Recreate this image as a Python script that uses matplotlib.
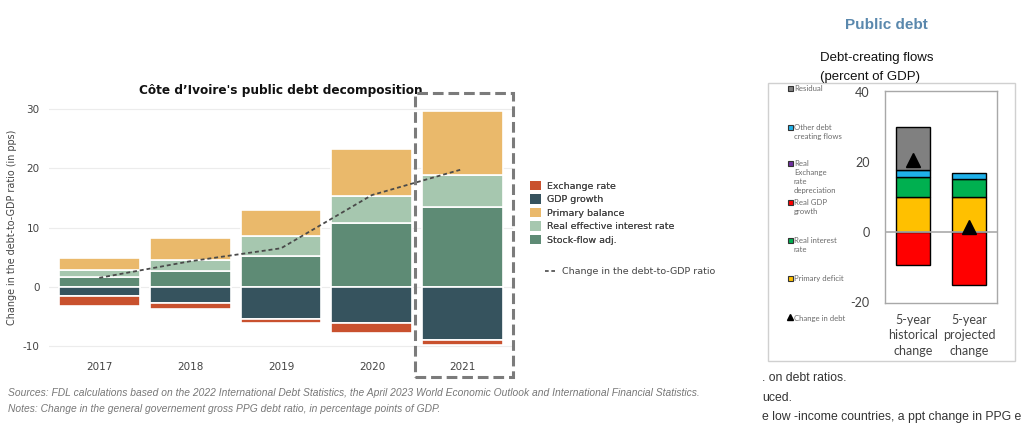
import matplotlib
matplotlib.use("Agg")
import matplotlib.pyplot as plt
from matplotlib.patches import Rectangle, Patch
from matplotlib.lines import Line2D
import numpy as np

# ---------------- data: Côte d'Ivoire decomposition ----------------
years = ["2017", "2018", "2019", "2020", "2021"]
stock_flow = [1.7, 2.7, 5.2, 10.7, 13.5]
real_interest = [1.2, 1.8, 3.3, 4.7, 5.4]
primary_balance = [2.0, 3.7, 4.4, 7.9, 10.8]
gdp_growth = [-1.6, -2.7, -5.5, -6.1, -9.1]
exchange_rate = [-1.7, -1.0, -0.7, -1.8, -0.7]
debt_change = [1.5, 4.3, 6.5, 15.5, 19.9]

left_yticks = [-10, 0, 10, 20, 30]

# ---------------- data: debt-creating flows ----------------
flow_periods = ["5-year\nhistorical\nchange", "5-year\nprojected\nchange"]
primary_deficit = [10.0, 10.0]
real_interest_rate = [5.7, 5.0]
real_exch_depr = [0.0, 0.0]
other_flows = [1.9, 1.7]
residual = [12.4, 0.0]
real_gdp_growth = [-9.5, -15.2]
change_in_debt = [20.5, 1.2]

right_yticks = [-20, 0, 20, 40]

W, H = 1022, 423
fig = plt.figure(figsize=(W / 100, H / 100), dpi=100)
fig.patch.set_facecolor("white")


def fx(px):
    return px / W


def fy(py):
    return 1 - py / H


# ====================== left chart ======================
c_exch = "#c9512e"
c_gdp = "#36535e"
c_prim = "#eab96b"
c_rir = "#a6c7af"
c_sf = "#5e8b75"

ax = fig.add_axes([0.0482, 0.1615, 0.4536, 0.601])
x = np.arange(len(years))
bw = 0.89
edge = dict(edgecolor="white", linewidth=1.2)

ax.bar(x, stock_flow, bw, color=c_sf, **edge)
ax.bar(x, real_interest, bw, bottom=stock_flow, color=c_rir, **edge)
bot = np.array(stock_flow) + np.array(real_interest)
ax.bar(x, primary_balance, bw, bottom=bot, color=c_prim, **edge)
ax.bar(x, gdp_growth, bw, color=c_gdp, **edge)
ax.bar(x, exchange_rate, bw, bottom=gdp_growth, color=c_exch, **edge)

ax.plot(x, debt_change, color="#4a4a4a", lw=1.3,
        linestyle=(0, (2.2, 1.6)), zorder=5)

ax.set_xlim(-0.55, 4.55)
ax.set_ylim(-11.5, 31.5)
ax.set_yticks(left_yticks)
ax.set_yticklabels([str(v) for v in left_yticks])
ax.set_xticks(x)
ax.set_xticklabels(years)
ax.tick_params(axis="both", length=0, labelsize=7.5, colors="#444444")
ax.tick_params(axis="x", pad=5)
ax.tick_params(axis="y", pad=7)
for s in ax.spines.values():
    s.set_visible(False)
ax.grid(axis="y", color="#ececec", linewidth=0.8)
ax.set_axisbelow(True)
ax.set_ylabel("Change in the debt-to-GDP ratio (in pps)", fontsize=6.9,
              color="#444444", labelpad=4)
ax.set_title("Côte d\u2019Ivoire's public debt decomposition", fontsize=8.7,
             fontweight="bold", color="#111111", pad=5)

# highlight frame around the last year
ax.add_patch(Rectangle((3.473, -15.23), 1.078, 48.06, fill=False,
                       edgecolor="#7b7b7b", linewidth=2.2,
                       linestyle=(0, (3.5, 1.6)), clip_on=False, zorder=6))

leg1 = fig.legend(
    [Patch(facecolor=c_exch), Patch(facecolor=c_gdp), Patch(facecolor=c_prim),
     Patch(facecolor=c_rir), Patch(facecolor=c_sf)],
    ["Exchange rate", "GDP growth", "Primary balance",
     "Real effective interest rate", "Stock-flow adj."],
    loc="upper left", bbox_to_anchor=(fx(530), fy(181)), frameon=False,
    fontsize=6.8, handlelength=1.15, handleheight=1.15, handletextpad=0.6,
    labelspacing=0.38, borderpad=0, borderaxespad=0, labelcolor="#444444")
fig.add_artist(leg1)
fig.legend([Line2D([0], [0], color="#4a4a4a", lw=1.2, linestyle=(0, (2.2, 1.6)))],
           ["Change in the debt-to-GDP ratio"],
           loc="upper left", bbox_to_anchor=(fx(545), fy(267)), frameon=False,
           fontsize=6.8, handlelength=1.3, handletextpad=0.5, borderpad=0,
           borderaxespad=0, labelcolor="#444444")

notes_font = dict(fontsize=7.4, style="italic", color="#777777",
                  family=["Liberation Sans", "DejaVu Sans"])
fig.text(fx(8), fy(393), "Sources: FDL calculations based on the 2022 International "
         "Debt Statistics, the April 2023 World Economic Outlook and International "
         "Financial Statistics.", va="center", **notes_font)
fig.text(fx(8), fy(409), "Notes: Change in the general governement gross PPG debt "
         "ratio, in percentage points of GDP.", va="center", **notes_font)

# ====================== right chart ======================
sans = ["Liberation Sans", "DejaVu Sans"]
calib = ["Lato", "DejaVu Sans"]

fig.text(fx(886), fy(25), "Public debt", ha="center", va="center",
         fontsize=11, fontweight="bold", color="#5a88ad", family=sans)
fig.text(fx(820), fy(58), "Debt-creating flows", ha="left", va="center",
         fontsize=9.5, color="#111111", family=sans)
fig.text(fx(820), fy(77), "(percent of GDP)", ha="left", va="center",
         fontsize=9.5, color="#111111", family=sans)

fig.add_artist(Rectangle((fx(768), fy(361)), 247 / W, 278 / H, fill=False,
                         edgecolor="#d0d0d0", linewidth=1.0,
                         transform=fig.transFigure))

c_resid = "#808080"
c_other = "#1fb1ea"
c_rxd = "#7030a0"
c_rgdp = "#ff0000"
c_rint = "#00b050"
c_pdef = "#ffc000"

ax2 = fig.add_axes([fx(885), fy(302.7), 112 / W, 212 / H])
x2 = np.arange(len(flow_periods))
bw2 = 0.6
e2 = dict(edgecolor="black", linewidth=1.0)
p0 = np.zeros(2)
ax2.bar(x2, primary_deficit, bw2, bottom=p0, color=c_pdef, **e2)
p1 = p0 + np.array(primary_deficit)
ax2.bar(x2, real_interest_rate, bw2, bottom=p1, color=c_rint, **e2)
p2 = p1 + np.array(real_interest_rate)
p3 = p2 + np.array(real_exch_depr)
ax2.bar(x2, other_flows, bw2, bottom=p3, color=c_other, **e2)
p4 = p3 + np.array(other_flows)
for i in range(2):
    if residual[i] > 0:
        ax2.bar(x2[i], residual[i], bw2, bottom=p4[i], color=c_resid, **e2)
ax2.bar(x2, real_gdp_growth, bw2, color=c_rgdp, **e2)
ax2.axhline(0, color="#aaaaaa", linewidth=1.2, zorder=4)
ax2.plot(x2, change_in_debt, linestyle="none", marker="^", markersize=10,
         color="black", zorder=6)

ax2.set_xlim(-0.5, 1.5)
ax2.set_ylim(-20.3, 40.3)
ax2.set_yticks(right_yticks)
ax2.set_yticklabels([str(v) for v in right_yticks], family=calib)
ax2.set_xticks(x2)
ax2.set_xticklabels(flow_periods, family=calib, linespacing=1.35)
ax2.tick_params(axis="both", length=0, labelsize=9, colors="#444444")
ax2.tick_params(axis="y", pad=11)
ax2.tick_params(axis="x", pad=8)
for s in ax2.spines.values():
    s.set_color("#a8a8a8")
    s.set_linewidth(1.0)

# side legend for the flows chart, drawn in pixel space
lax = fig.add_axes([0, 0, 1, 1])
lax.set_xlim(0, W)
lax.set_ylim(H, 0)
lax.axis("off")
legend_items = [
    ("Residual", c_resid, 89),
    ("Other debt\ncreating flows", c_other, 128),
    ("Real\nExchange\nrate\ndepreciation", c_rxd, 164),
    ("Real GDP\ngrowth", c_rgdp, 203),
    ("Real interest\nrate", c_rint, 241),
    ("Primary deficit", c_pdef, 279),
]
for label, col, yy in legend_items:
    lax.add_patch(Rectangle((787.5, yy - 2.5), 5, 5, facecolor=col,
                            edgecolor="#333333", linewidth=0.8))
    lax.text(794, yy - 4.2, label, fontsize=5.6, color="#6a6a6a", va="top",
             ha="left", family=calib, linespacing=1.35)
lax.plot([790], [317], marker="^", color="black", markersize=4.5,
         linestyle="none")
lax.text(794.5, 318, "Change in debt", fontsize=5.6, color="#6a6a6a",
         va="center", ha="left", family=calib)

# running text below the flows chart
body = dict(fontsize=8.8, color="#333333", family=sans, va="center", ha="left")
fig.text(fx(762), fy(378), ". on debt ratios.", **body)
fig.text(fx(762), fy(398), "uced.", **body)
fig.text(fx(762), fy(417), "e low -income countries, a ppt change in PPG e", **body)

fig.savefig("out.png", dpi=100, facecolor="white")
